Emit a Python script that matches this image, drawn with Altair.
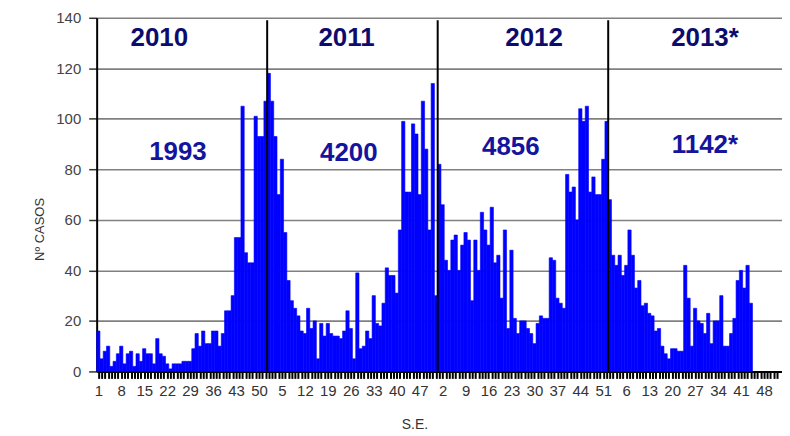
import json
import altair as alt
import pandas as pd

# ---------------- data ----------------
years = ["2010", "2011", "2012", "2013*"]
year_totals = ["1993", "4200", "4856", "1142*"]

cases_2010 = [16, 5, 8, 10, 2, 4, 7, 10, 3, 7, 8, 2, 7, 4, 9, 7, 7, 3, 13, 7,
              6, 3, 1, 3, 3, 3, 4, 4, 4, 9, 15, 10, 16, 11, 11, 16, 16, 10, 15, 24,
              24, 30, 53, 53, 105, 47, 43, 43, 101, 93, 93, 107]
cases_2011 = [118, 107, 93, 70, 84, 55, 36, 28, 25, 22, 16, 15, 25, 17, 20, 5, 19, 14, 19, 15,
              14, 14, 13, 16, 24, 17, 5, 39, 9, 10, 16, 13, 30, 19, 18, 27, 41, 38, 38, 31,
              56, 99, 71, 71, 98, 94, 70, 107, 88, 56, 114, 30]
cases_2012 = [82, 66, 44, 40, 52, 54, 40, 50, 55, 52, 28, 52, 40, 63, 56, 50, 65, 43, 46, 29,
              56, 17, 48, 21, 15, 20, 20, 17, 15, 11, 19, 22, 21, 21, 45, 44, 29, 27, 25, 78,
              71, 73, 60, 104, 99, 105, 71, 77, 70, 70, 84, 99]
cases_2013 = [68, 46, 42, 46, 38, 42, 56, 46, 33, 36, 26, 27, 23, 22, 16, 17, 10, 7, 5, 9,
              9, 8, 8, 42, 29, 10, 25, 20, 19, 15, 23, 11, 20, 20, 30, 10, 10, 15, 21, 36,
              40, 33, 42, 27]

x_tick_labels = ["1", "8", "15", "22", "29", "36", "43", "50",
                 "5", "12", "19", "26", "33", "40", "47",
                 "2", "9", "16", "23", "30", "37", "44", "51",
                 "6", "13", "20", "27", "34", "41", "48"]
y_ticks = [0, 20, 40, 60, 80, 100, 120, 140]

# annotation placement (data space: week slot, cases)
year_label_x = [19.1, 76.2, 133.4, 185.5]
year_label_y = [131.8, 131.8, 131.8, 131.8]
total_label_x = [24.8, 76.9, 126.3, 185.5]
total_label_y = [86.8, 86.4, 88.7, 89.5]

# ---------------- tables ----------------
WEEKS = 52
series = [cases_2010, cases_2011, cases_2012, cases_2013]
rows = []
for yi, vals in enumerate(series):
    for wi, v in enumerate(vals):
        idx = yi * WEEKS + wi
        rows.append({"idx": idx, "idx2": idx + 1, "casos": v})
bars_df = pd.DataFrame(rows)

n_slots = WEEKS * len(years)
week_centres = [i + 0.5 for i in range(n_slots)]
dividers_df = pd.DataFrame({"idx": [WEEKS * i for i in range(1, len(years))]})
years_df = pd.DataFrame({"label": years, "idx": year_label_x, "casos": year_label_y})
totals_df = pd.DataFrame({"label": year_totals, "idx": total_label_x, "casos": total_label_y})

x_scale = alt.Scale(domain=[0, n_slots + 1], nice=False, zero=False)
y_scale = alt.Scale(domain=[0, 140], nice=False)

FONT = "Liberation Sans"
label_expr = ("(floor(datum.value) % 7 == 0) ? " + json.dumps(x_tick_labels)
              + "[floor(datum.value) / 7] : ''")

x_axis = alt.Axis(values=week_centres, labelExpr=label_expr,
                  labelOverlap=False, labelFlush=False, labelFont=FONT, labelFontSize=15,
                  labelColor="#333333", labelPadding=5, tickColor="#000000", tickSize=7,
                  tickWidth=2, domainColor="#000000", domainWidth=2,
                  grid=False, title="S.E.", titleFont=FONT, titleFontSize=14,
                  titleFontWeight="normal", titleColor="#333333", titleX=319, titleY=46)
y_axis = alt.Axis(values=y_ticks, grid=True, gridColor="#808080", gridWidth=1.6,
                  domainColor="#000000", domainWidth=2, tickColor="#333333", tickSize=8,
                  tickWidth=1.5, labelFont=FONT, labelFontSize=15, labelColor="#444444",
                  labelPadding=8, title="Nº CASOS", titleFont=FONT, titleFontSize=13,
                  titleFontWeight="normal", titleColor="#333333", titleX=-50, titleY=212)

X = alt.X("idx:Q", scale=x_scale, axis=x_axis)
Y = alt.Y("casos:Q", scale=y_scale, axis=y_axis)

bars = alt.Chart(bars_df).mark_rect(color="#0000ff", stroke="#0000ff", strokeWidth=0.6).encode(
    x=X, x2="idx2:Q", y=Y, y2=alt.datum(0),
)

dividers = alt.Chart(dividers_df).mark_rule(color="#000000", strokeWidth=2).encode(
    x=X, y=alt.datum(0), y2=alt.datum(139),
)

year_text = alt.Chart(years_df).mark_text(
    font=FONT, fontSize=26, fontWeight="bold", color="#0c0c6e", baseline="middle"
).encode(x=X, y=Y, text="label:N")

total_text = alt.Chart(totals_df).mark_text(
    font=FONT, fontSize=26, fontWeight="bold", color="#14149c", baseline="middle"
).encode(x=X, y=Y, text="label:N")

chart = alt.layer(bars, dividers, year_text, total_text).properties(
    width=688, height=355,
    autosize=alt.AutoSizeParams(type="none"),
    padding={"left": 89, "top": 9, "right": 0, "bottom": 62},
    background="#ffffff",
).configure_view(stroke=None)

chart.save("out.html", embed_options={"renderer": "svg", "actions": False})
